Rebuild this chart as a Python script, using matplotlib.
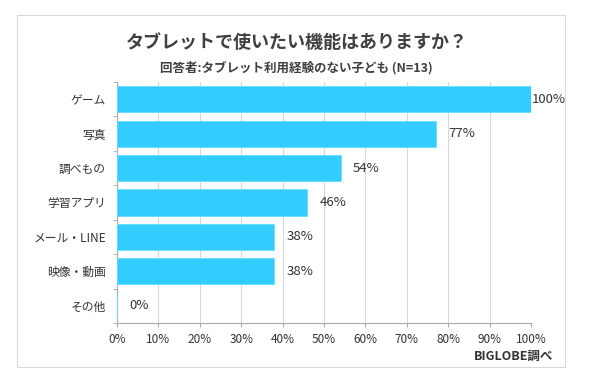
import matplotlib.pyplot as plt
from matplotlib.patches import Rectangle

plt.rcParams["font.family"] = ["Noto Sans CJK JP", "DejaVu Sans"]

categories = ["ゲーム", "写真", "調べもの", "学習アプリ", "メール・LINE", "映像・動画", "その他"]
values = [100, 77, 54, 46, 38, 38, 0]
xticks = [0, 10, 20, 30, 40, 50, 60, 70, 80, 90, 100]

text_color = "#333333"
fig = plt.figure(figsize=(5.93, 3.82), dpi=100)
ax = fig.add_axes([117 / 593, 59 / 382, 414 / 593, 241 / 382])

ypos = list(range(len(categories)))
ax.barh(ypos, values, height=0.76, color="#33CCFF", edgecolor="#66DDFF", linewidth=0.6, zorder=3)
for y, v in zip(ypos, values):
    ax.text(v + (0.3 if v >= 100 else 3), y, f"{v}%", va="center", ha="left", fontsize=9.5, color=text_color)

ax.set_ylim(len(categories) - 0.5, -0.5)
ax.set_xlim(0, 100)
ax.set_yticks(ypos)
ax.set_yticklabels(categories, fontsize=8.5, color=text_color)
ax.set_yticks([i - 0.5 for i in range(len(categories) + 1)], minor=True)
ax.tick_params(axis="y", which="major", length=0, pad=8)
ax.tick_params(axis="y", which="minor", length=3, color="#aaaaaa")
ax.set_xticks(xticks)
ax.set_xticklabels([f"{t}%" for t in xticks], fontsize=8.5, color=text_color)
ax.tick_params(axis="x", length=3, color="#aaaaaa", pad=4)
ax.grid(axis="x", color="#d9d9d9", linewidth=0.8, zorder=0)
for s in ["top", "right"]:
    ax.spines[s].set_visible(False)
for s in ["left", "bottom"]:
    ax.spines[s].set_color("#aaaaaa")

fig.patches.append(Rectangle((17 / 593, 15 / 382), 548 / 593, 352 / 382, transform=fig.transFigure,
                             fill=False, edgecolor="#d9d9d9", linewidth=0.8))
fig.text(0.5, 1 - 42 / 382, "タブレットで使いたい機能はありますか？", ha="center", va="center",
         fontsize=13, fontweight="bold", color="#404040")
fig.text(0.5, 1 - 68 / 382, "回答者:タブレット利用経験のない子ども (N=13)", ha="center", va="center",
         fontsize=9, fontweight="bold", color="#404040")
fig.text(553 / 593, 1 - 356 / 382, "BIGLOBE調べ", ha="right", va="center",
         fontsize=9, fontweight="bold", color=text_color)

fig.savefig("out.png", dpi=100)
